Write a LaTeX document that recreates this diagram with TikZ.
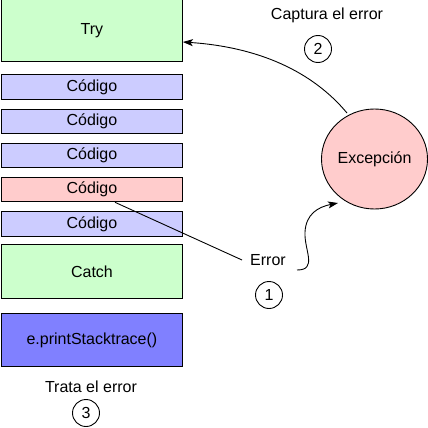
\documentclass[tikz,border=0pt]{standalone}
\usepackage{fontspec}
\setmainfont{Liberation Sans}
\usetikzlibrary{shapes.geometric,arrows.meta,calc}
\definecolor{trygreen}{HTML}{CCFFCC}
\definecolor{codeblue}{HTML}{CCCCFF}
\definecolor{codered}{HTML}{FFCCCC}
\definecolor{darkblue}{HTML}{8080FF}
\begin{document}
\begin{tikzpicture}[x=1pt,y=-1pt,
  font=\fontsize{16}{19}\selectfont,
  box/.style={draw=black, line width=0.9pt, minimum width=181pt, inner sep=0pt, anchor=north west},
  codebox/.style={box, fill=codeblue, minimum height=24.5pt},
  label/.style={inner sep=0pt},
  num/.style={circle, draw=black, line width=0.9pt, minimum size=27pt, inner sep=0pt},
  conn/.style={line width=0.9pt},
  arr/.style={conn, -{Stealth[length=10pt,width=7pt,inset=2.5pt]}}]
\fill[white] (0,0) rectangle (428,428);
\useasboundingbox (0,0) rectangle (428,428);
\node[box, fill=trygreen, minimum height=62pt] (try) at (1,-1) {Try};
\node[codebox] (c1) at (1,74.3) {Código};
\node[codebox] (c2) at (1,108.5) {Código};
\node[codebox] (c3) at (1,142.7) {Código};
\node[codebox, fill=codered] (c4) at (1,176.9) {Código};
\node[codebox] (c5) at (1,211.1) {Código};
\node[box, fill=trygreen, minimum height=54pt] (catch) at (1,244) {Catch};
\node[box, fill=darkblue, minimum height=53pt] (print) at (1,313) {e.printStacktrace()};
\node[label] (trata) at (91,387) {Trata el error};
\node[num] (n3) at (86,413) {3};
\node[label] (captura) at (327,15) {Captura el error};
\node[num] (n2) at (318,49) {2};
\node[ellipse, draw=black, line width=0.9pt, fill=codered, minimum width=106pt, minimum height=100pt, inner sep=0pt] (ex) at (374.5,159) {Excepción};
\node[label, inner sep=8pt] (err) at (268,260) {Error};
\node[num] (n1) at (269,295) {1};
\coordinate (tryin) at ($(try.north east)+(0,43)$);
\coordinate (exout) at (347,113);
\coordinate (codeout) at ($(c4.south west)+(114,0)$);
\coordinate (errout) at (297,270);
\coordinate (exin) at (338,203);
\draw[arr] (exout) .. controls (312,71) and (258,47) .. (tryin);
\draw[conn] (codeout) -- (err.west);
\draw[arr] (errout) .. controls (318,270) and (304,250) .. (305,232) .. controls (306,214) and (318,207) .. (exin);
\end{tikzpicture}
\end{document}
